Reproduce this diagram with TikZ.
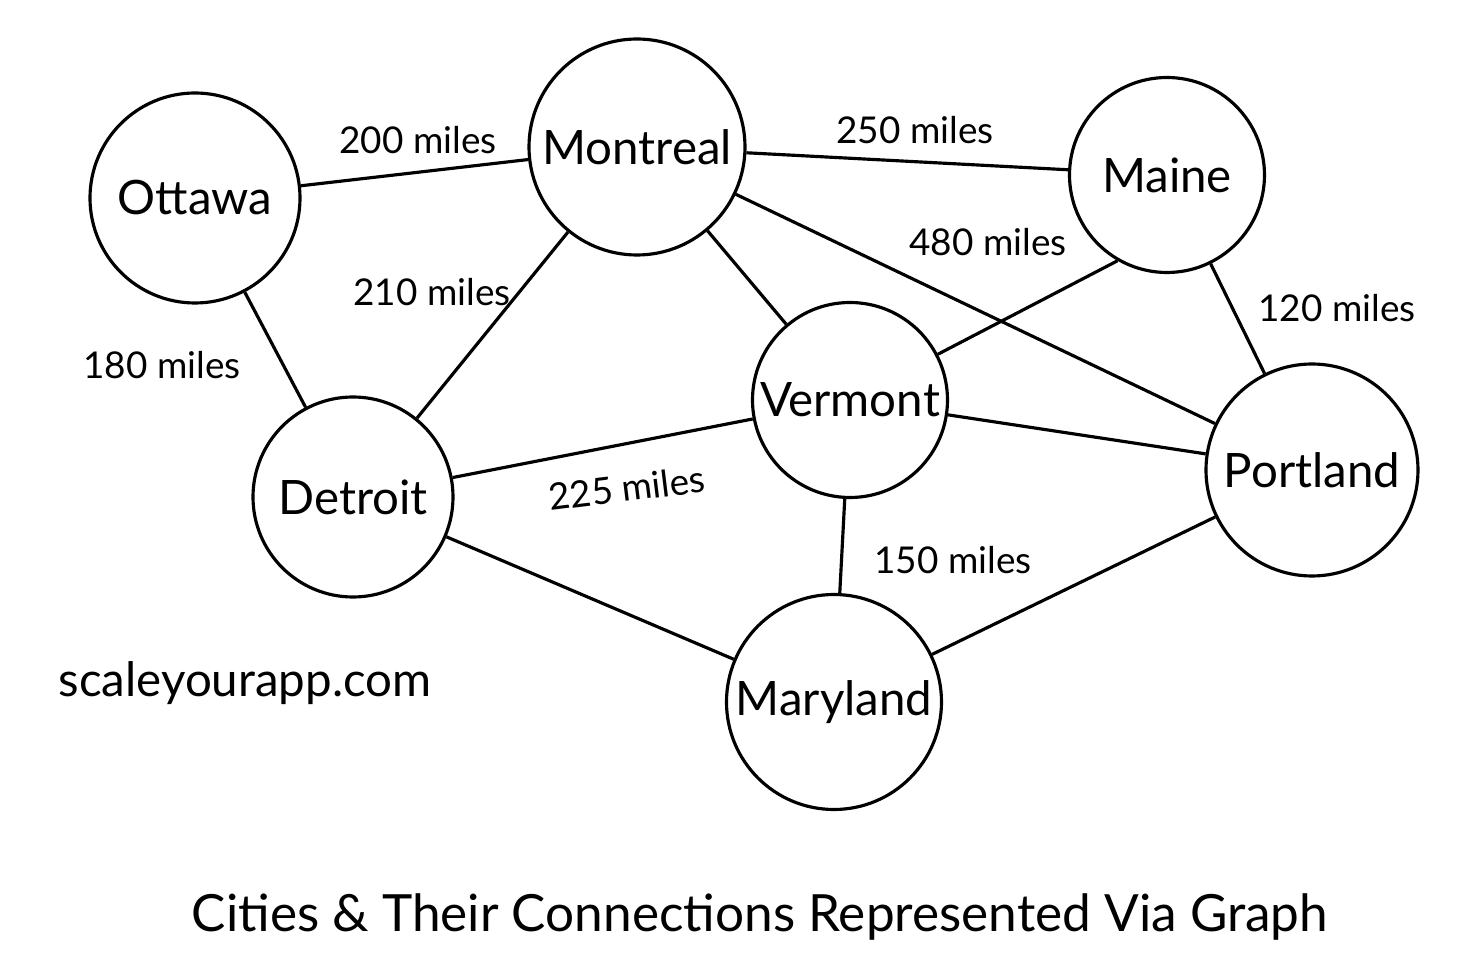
\documentclass[tikz,border=0pt]{standalone}
\usepackage{fontspec}
\setmainfont{Lato}
\usetikzlibrary{positioning}
\tikzset{
	city/.style={draw, circle, line width=0.9pt, inner sep=0pt, font=\fontsize{13.5}{15}\selectfont},
	dist/.style={font=\fontsize{10.5}{12}\selectfont},
	road/.style={-, line width=0.9pt}
}

\begin{document}
\begin{tikzpicture}[scale=1]
		\useasboundingbox (0,0) rectangle (14.68,-9.56);
		
		\node[city, minimum size=2.1cm] (ottawa) at (1.95,-1.98) {Ottawa};
		\node[city, minimum size=2.16cm] (montreal) at (6.37,-1.47) {Montreal};
		\node[city, minimum size=1.95cm] (maine) at (11.67,-1.75) {Maine};
		\node[city, minimum size=1.95cm] (vermont) at (8.50,-4.00) {Vermont};
		\node[city, minimum size=2.12cm] (portland) at (13.12,-4.70) {Portland};
		\node[city, minimum size=2.0cm] (detroit) at (3.53,-4.97) {Detroit};
		\node[city, minimum size=2.15cm] (maryland) at (8.34,-7.02) {Maryland};
		
		\draw[road] (ottawa) -- (montreal);
		\draw[road] (montreal) -- (maine);
		\draw[road] (ottawa) -- (detroit);
		\draw[road] (montreal) -- (detroit);
		\draw[road] (montreal) -- (vermont);
		\draw[road] (montreal) -- (portland);
		\draw[road] (maine.240) -- (vermont);
		\draw[road] (maine) -- (portland);
		\draw[road] (detroit) -- (vermont);
		\draw[road] (vermont) -- (portland);
		\draw[road] (vermont) -- (maryland);
		\draw[road] (detroit) -- (maryland);
		\draw[road] (maryland) -- (portland);
		
		\node[dist] (d200) at (4.18,-1.40) {200 miles};
		\node[dist] (d250) at (9.15,-1.30) {250 miles};
		\node[dist] (d480) at (9.88,-2.42) {480 miles};
		\node[dist] (d210) at (4.32,-2.92) {210 miles};
		\node[dist] (d180) at (1.62,-3.65) {180 miles};
		\node[dist] (d120) at (13.37,-3.08) {120 miles};
		\node[dist, rotate=7] (d225) at (6.27,-4.88) {225 miles};
		\node[dist] (d150) at (9.53,-5.60) {150 miles};
		
		\node[font=\fontsize{13.5}{15}\selectfont] (site) at (2.45,-6.83) {scaleyourapp.com};
		\node[font=\fontsize{14.6}{16}\selectfont] (title) at (7.60,-9.17) {Cities \& Their Connections Represented Via Graph};
		
		\end{tikzpicture}
\end{document}
